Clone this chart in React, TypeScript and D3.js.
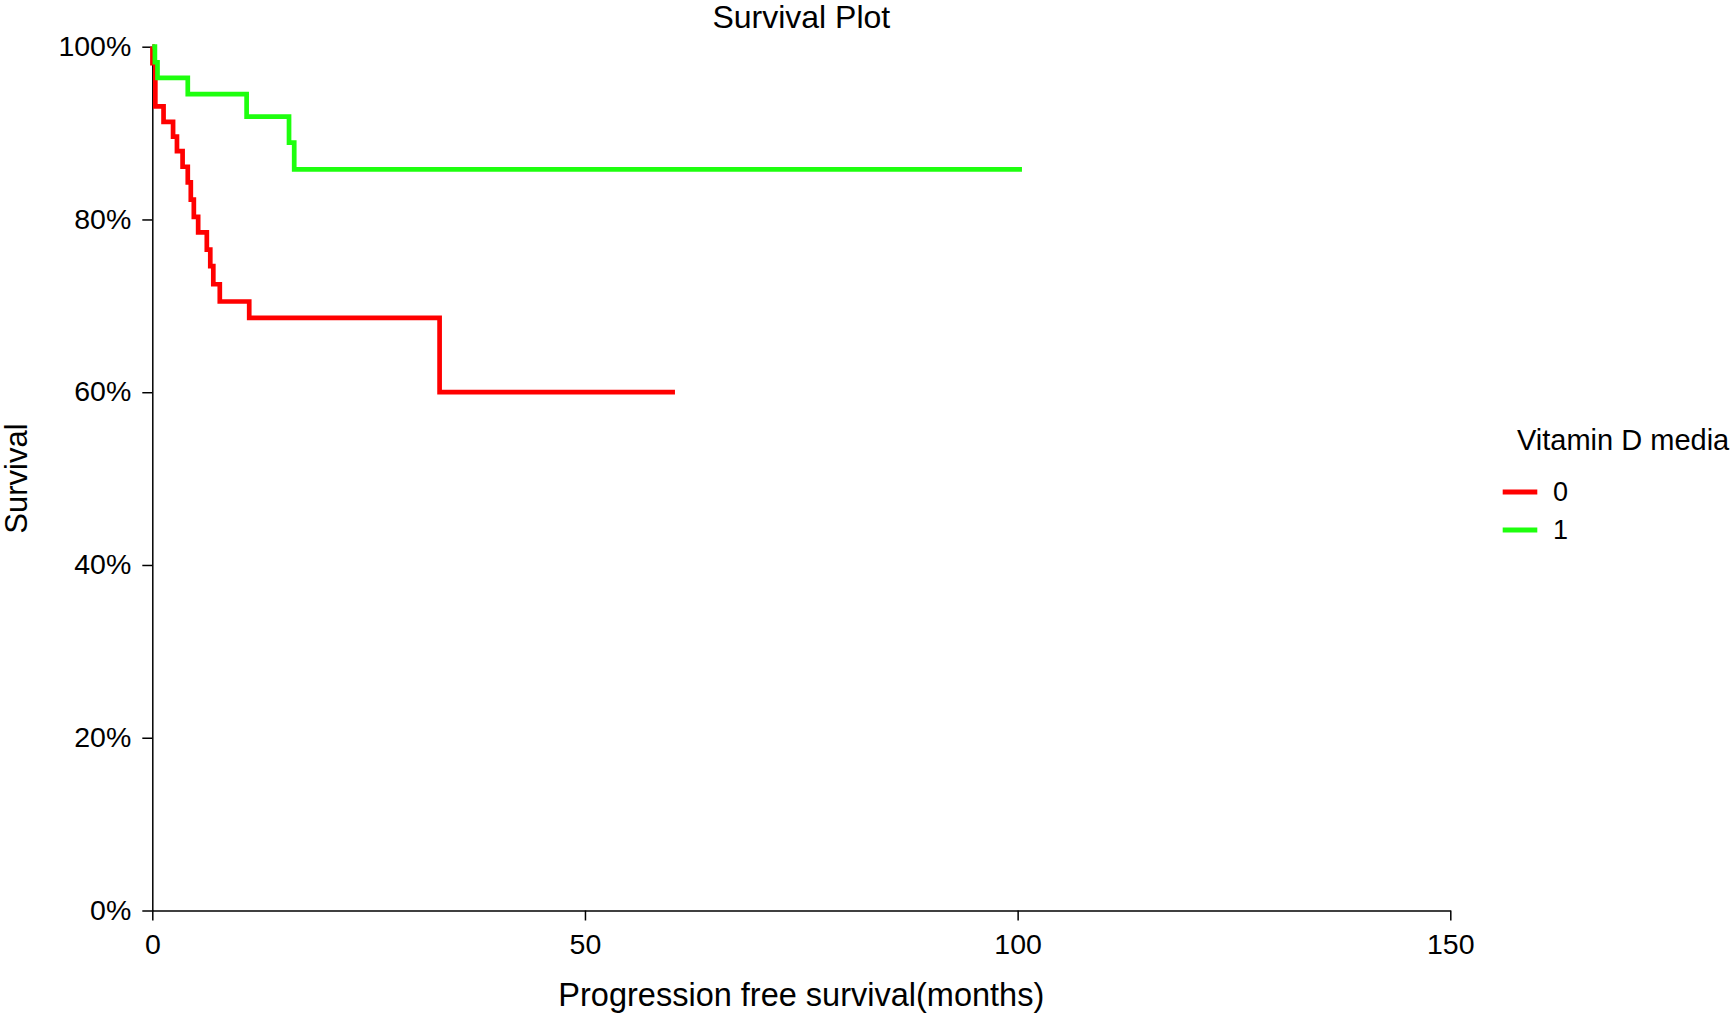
import React, { useEffect, useRef } from "react";
import * as d3 from "d3";

// Kaplan-Meier steps (time in months, survival as fraction)
const group0Times = [0, 0.02, 0.35, 1.3, 2.4, 2.85, 3.5, 4.1, 4.45, 4.8, 5.3, 6.3, 6.7, 7.05, 7.8, 11.2, 33.2, 60.4];
const group0Surv = [1, 0.981, 0.931, 0.913, 0.896, 0.879, 0.861, 0.843, 0.823, 0.803, 0.785, 0.765, 0.746, 0.725, 0.705, 0.686, 0.6, 0.6];

const group1Times = [0, 0.3, 0.6, 4.1, 10.9, 15.8, 16.4, 100.5];
const group1Surv = [1, 0.982, 0.964, 0.945, 0.919, 0.889, 0.858, 0.858];

const groupNames = ["0", "1"];
const groupColors = ["#FF0000", "#1EFF0E"];

const xTicks = [0, 50, 100, 150];
const yTicks = [0, 0.2, 0.4, 0.6, 0.8, 1];

const W = 1733;
const H = 1014;
const FONT = "'Liberation Sans', Arial, sans-serif";

const SurvivalPlot = () => {
  const ref = useRef<SVGSVGElement | null>(null);

  useEffect(() => {
    document.body.style.margin = "0";
    document.body.style.overflow = "hidden";

    const svg = d3.select(ref.current);
    svg.selectAll("*").remove();

    const left = 152.3;
    const right = 1450.3;
    const top = 46.7;
    const bottom = 910.5;

    const x = d3.scaleLinear().domain([0, 150]).range([left, right]);
    const y = d3.scaleLinear().domain([0, 1]).range([bottom, top]);

    const series = [
      group0Times.map((t, i) => [t, group0Surv[i]]),
      group1Times.map((t, i) => [t, group1Surv[i]]),
    ];

    const line = d3
      .line<number[]>()
      .x((d) => x(d[0]))
      .y((d) => y(d[1]))
      .curve(d3.curveStepAfter);

    // axes
    const xAxis = svg
      .append("g")
      .attr("transform", `translate(0,${bottom})`)
      .call(d3.axisBottom(x).tickValues(xTicks).tickSize(10).tickSizeOuter(0).tickPadding(13));

    const yAxis = svg
      .append("g")
      .attr("transform", `translate(${left},0)`)
      .call(
        d3
          .axisLeft(y)
          .tickValues(yTicks)
          .tickFormat(d3.format(".0%"))
          .tickSize(10)
          .tickSizeOuter(0)
          .tickPadding(11)
      );

    [xAxis, yAxis].forEach((g) => {
      g.selectAll("path, line").attr("stroke", "#000").attr("stroke-width", 1.5);
      g.selectAll("text").attr("font-family", FONT).attr("font-size", 28.5).attr("fill", "#000");
    });
    yAxis.selectAll("text").attr("dy", "0.3em");

    // curves
    series.forEach((s, i) => {
      svg
        .append("path")
        .attr("d", line(s))
        .attr("fill", "none")
        .attr("stroke", groupColors[i])
        .attr("stroke-width", 4.7);
    });

    // title and axis labels
    svg
      .append("text")
      .attr("x", (left + right) / 2)
      .attr("y", 28)
      .attr("text-anchor", "middle")
      .attr("font-family", FONT)
      .attr("font-size", 32)
      .text("Survival Plot");

    svg
      .append("text")
      .attr("x", (left + right) / 2)
      .attr("y", 1006)
      .attr("text-anchor", "middle")
      .attr("font-family", FONT)
      .attr("font-size", 32.5)
      .text("Progression free survival(months)");

    svg
      .append("text")
      .attr("transform", `translate(27,${(top + bottom) / 2}) rotate(-90)`)
      .attr("text-anchor", "middle")
      .attr("font-family", FONT)
      .attr("font-size", 31)
      .text("Survival");

    // legend
    const legend = svg.append("g");
    legend
      .append("text")
      .attr("x", 1517)
      .attr("y", 450)
      .attr("font-family", FONT)
      .attr("font-size", 29)
      .text("Vitamin D media");

    groupNames.forEach((name, i) => {
      const ly = 492 + i * 38;
      legend
        .append("line")
        .attr("x1", 1502.7)
        .attr("x2", 1537.3)
        .attr("y1", ly)
        .attr("y2", ly)
        .attr("stroke", groupColors[i])
        .attr("stroke-width", 5);
      legend
        .append("text")
        .attr("x", 1553)
        .attr("y", ly)
        .attr("dy", "0.35em")
        .attr("font-family", FONT)
        .attr("font-size", 27)
        .text(name);
    });
  }, []);

  return <svg ref={ref} width={W} height={H} style={{ display: "block", background: "#fff" }} />;
};

export default function App() {
  return <SurvivalPlot />;
}
